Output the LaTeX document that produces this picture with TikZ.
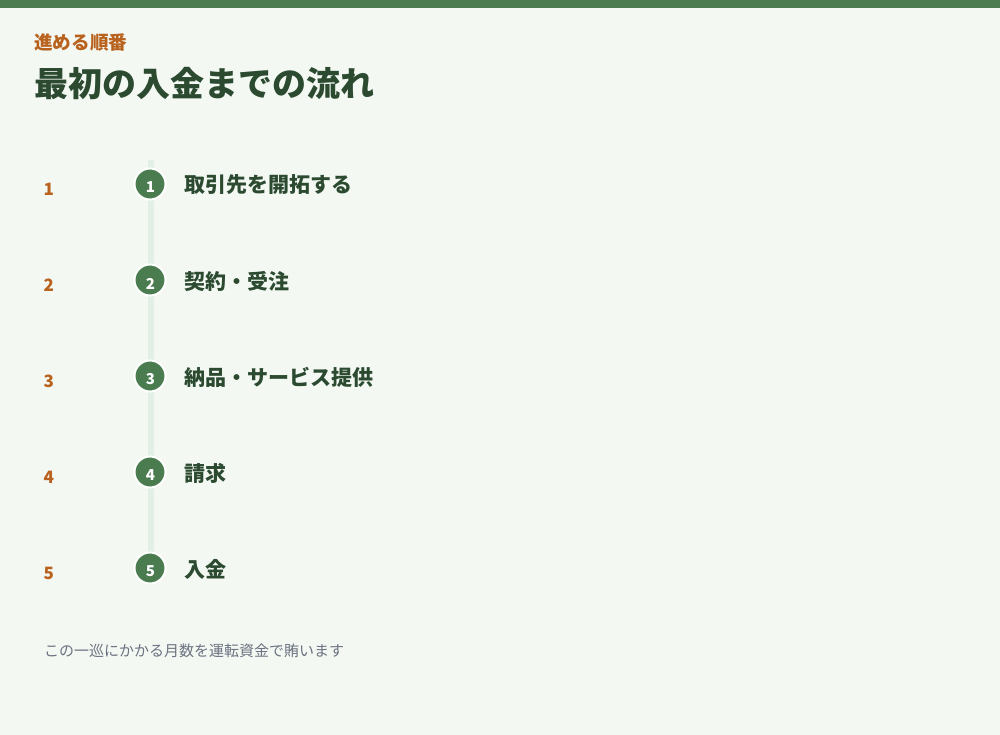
\documentclass[tikz,border=0pt]{standalone}
\usepackage{fontspec}
\setmainfont{Noto Sans CJK JP}
\definecolor{bg}{HTML}{F3F8F3}
\definecolor{barc}{HTML}{4A7C50}
\definecolor{orng}{HTML}{B8621E}
\definecolor{dkg}{HTML}{2B4A30}
\definecolor{linec}{HTML}{E2EFE5}
\definecolor{grayt}{HTML}{6B7280}
\tikzset{
  stepdot/.style={circle,fill=barc,draw=white,line width=2pt,minimum size=31pt,inner sep=0pt},
  dotnum/.style={text=white,font=\fontsize{15}{15}\selectfont\bfseries,inner sep=0pt},
  leftnum/.style={anchor=west,text=orng,font=\fontsize{17}{17}\selectfont\bfseries,inner sep=0pt},
  steplabel/.style={anchor=west,text=dkg,font=\fontsize{21}{21}\selectfont\bfseries,inner sep=0pt}
}
\begin{document}
\begin{tikzpicture}[x=1pt,y=-1pt]
\useasboundingbox (0,0) rectangle (1000,735);
\fill[bg] (0,0) rectangle (1000,735);
\fill[barc] (0,0) rectangle (1000,8);
\node[anchor=west,text=orng,font=\fontsize{18.6}{18.6}\selectfont\bfseries,inner sep=0pt] (sub) at (34,42) {進める順番};
\node[anchor=west,text=dkg,font=\fontsize{34}{34}\selectfont\bfseries,inner sep=0pt] (title) at (34,84) {最初の入金までの流れ};
\coordinate (ltop) at (151,160);
\coordinate (lbot) at (151,560);
\draw[linec,line width=6pt] (ltop) -- (lbot);
\foreach \i/\y/\t in {1/184/取引先を開拓する,2/280/契約・受注,3/376/納品・サービス提供,4/472/請求,5/568/入金}{
  \node[leftnum] (n\i) at (43.5,\y+5) {\i};
  \node[stepdot] (c\i) at (150,\y) {};
  \node[dotnum] (d\i) at (150.5,\y+3.5) {\i};
  \node[steplabel] (s\i) at (184,\y+1) {\t};
}
\node[anchor=west,text=grayt,font=\fontsize{15}{15}\selectfont,inner sep=0pt] (note) at (44,651) {この一巡にかかる月数を運転資金で賄います};
\end{tikzpicture}
\end{document}
